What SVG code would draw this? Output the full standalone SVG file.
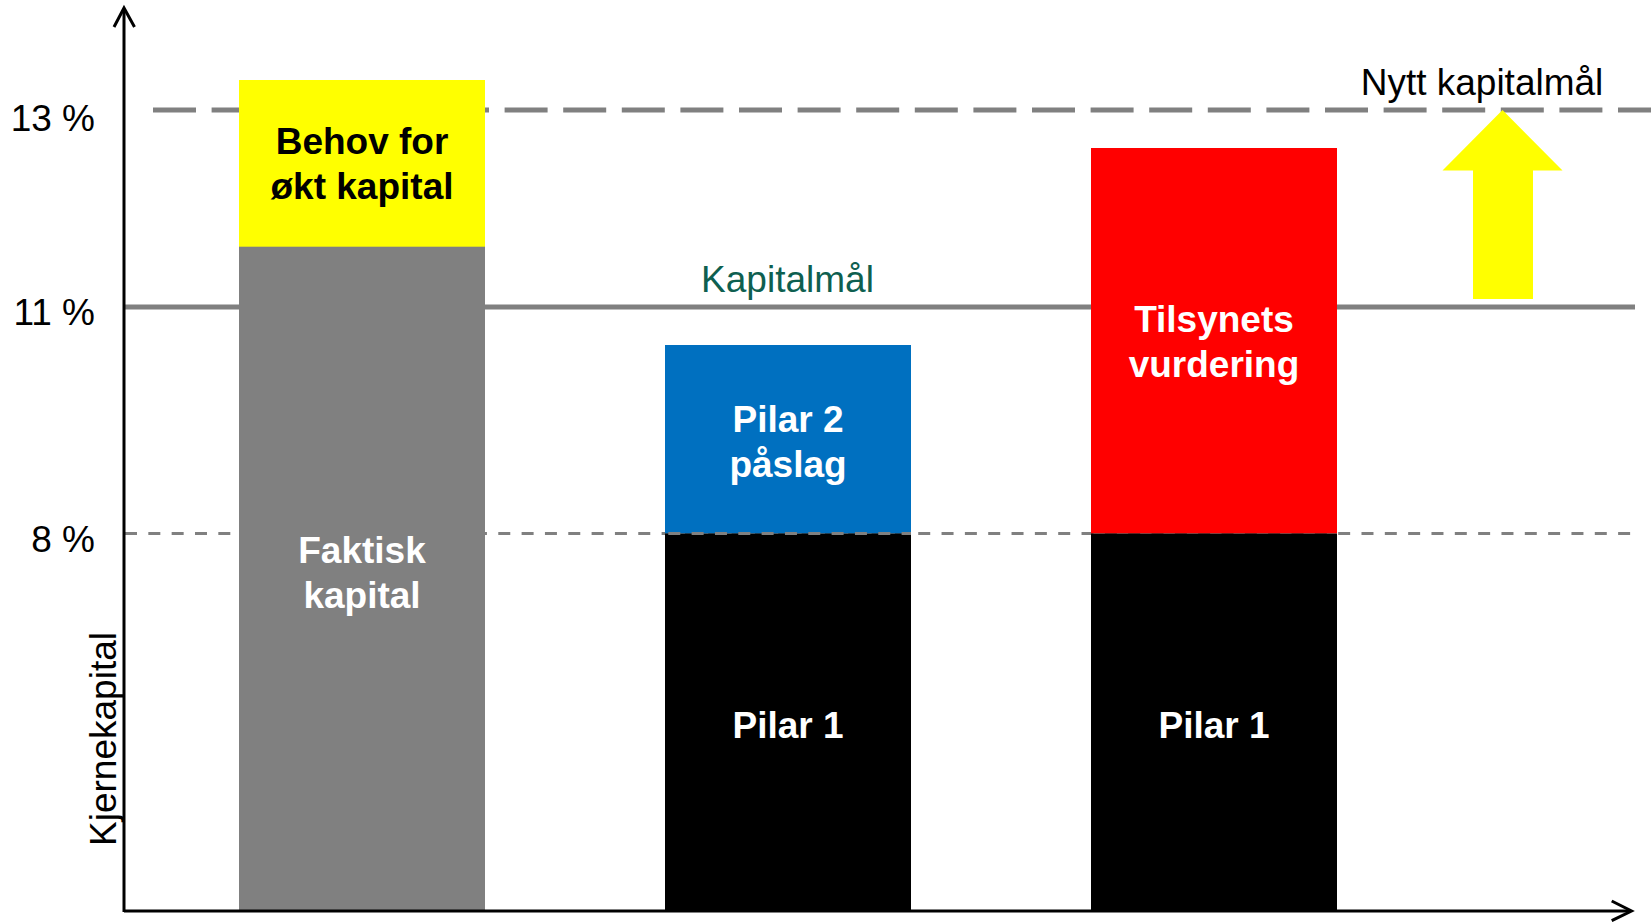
<svg xmlns="http://www.w3.org/2000/svg" width="1651" height="922" viewBox="0 0 1651 922">
<style>
.lbl{font-family:"Liberation Sans",Arial,sans-serif;font-size:37px;fill:#000}
.bar{font-family:"Liberation Sans",Arial,sans-serif;font-size:37px;font-weight:bold;fill:#fff;text-anchor:middle}
.axis{stroke:#000;stroke-width:3;fill:none}
.ref{stroke:#808080;fill:none}
</style>
<rect width="1651" height="922" fill="#fff"/>
<g id="reference-lines">
<line class="ref" x1="153" y1="110" x2="1651" y2="110" stroke-width="5" stroke-dasharray="43 15.6"/>
<line class="ref" x1="124" y1="307" x2="1635" y2="307" stroke-width="5"/>
<line class="ref" x1="125" y1="533.5" x2="1635" y2="533.5" stroke-width="3" stroke-dasharray="12 11.33"/>
</g>
<g id="bar1">
<rect x="239" y="80" width="246" height="167" fill="#ffff00"/>
<rect x="239" y="246.7" width="246" height="664.3" fill="#808080"/>
<text class="bar" x="362" y="154" style="fill:#000">Behov for</text>
<text class="bar" x="362" y="199" style="fill:#000">økt kapital</text>
<text class="bar" x="362" y="562.5">Faktisk</text>
<text class="bar" x="362" y="607.5">kapital</text>
</g>
<g id="bar2">
<rect x="665" y="345" width="246" height="188.5" fill="#0070c0"/>
<rect x="665" y="533.5" width="246" height="377.5" fill="#000"/>
<line class="ref" x1="665" y1="533.5" x2="911" y2="533.5" stroke-width="3" stroke-dasharray="12 11.33" stroke-dashoffset="-3.3"/>
<text class="bar" x="788" y="431.5">Pilar 2</text>
<text class="bar" x="788" y="476.5">påslag</text>
<text class="bar" x="788" y="737.5">Pilar 1</text>
</g>
<g id="bar3">
<rect x="1091" y="148" width="246" height="385.5" fill="#ff0000"/>
<rect x="1091" y="533.5" width="246" height="377.5" fill="#000"/>
<text class="bar" x="1214" y="332">Tilsynets</text>
<text class="bar" x="1214" y="376.5">vurdering</text>
<text class="bar" x="1214" y="737.5">Pilar 1</text>
</g>
<g id="up-arrow">
<polygon points="1502.5,110 1562.5,170.6 1533,170.6 1533,299 1473,299 1473,170.6 1442.5,170.6" fill="#ffff00"/>
</g>
<g id="axes">
<line class="axis" x1="124" y1="912" x2="124" y2="9"/>
<polyline class="axis" points="114,27 124,8 134.5,27"/>
<line class="axis" x1="124" y1="911" x2="1630" y2="911"/>
<polyline class="axis" points="1611.7,901 1631.5,911 1611.7,920.7"/>
</g>
<g id="labels">
<text class="lbl" x="95" y="131" text-anchor="end">13 %</text>
<text class="lbl" x="95" y="325" text-anchor="end">11 %</text>
<text class="lbl" x="95" y="551.5" text-anchor="end">8 %</text>
<text class="lbl" x="116" y="0" text-anchor="middle" transform="translate(116 739) rotate(-90) translate(-116 0)">Kjernekapital</text>
<text class="lbl" x="787.5" y="292" text-anchor="middle" style="fill:#0e5f50">Kapitalmål</text>
<text class="lbl" x="1482" y="95" text-anchor="middle">Nytt kapitalmål</text>
</g>
</svg>
